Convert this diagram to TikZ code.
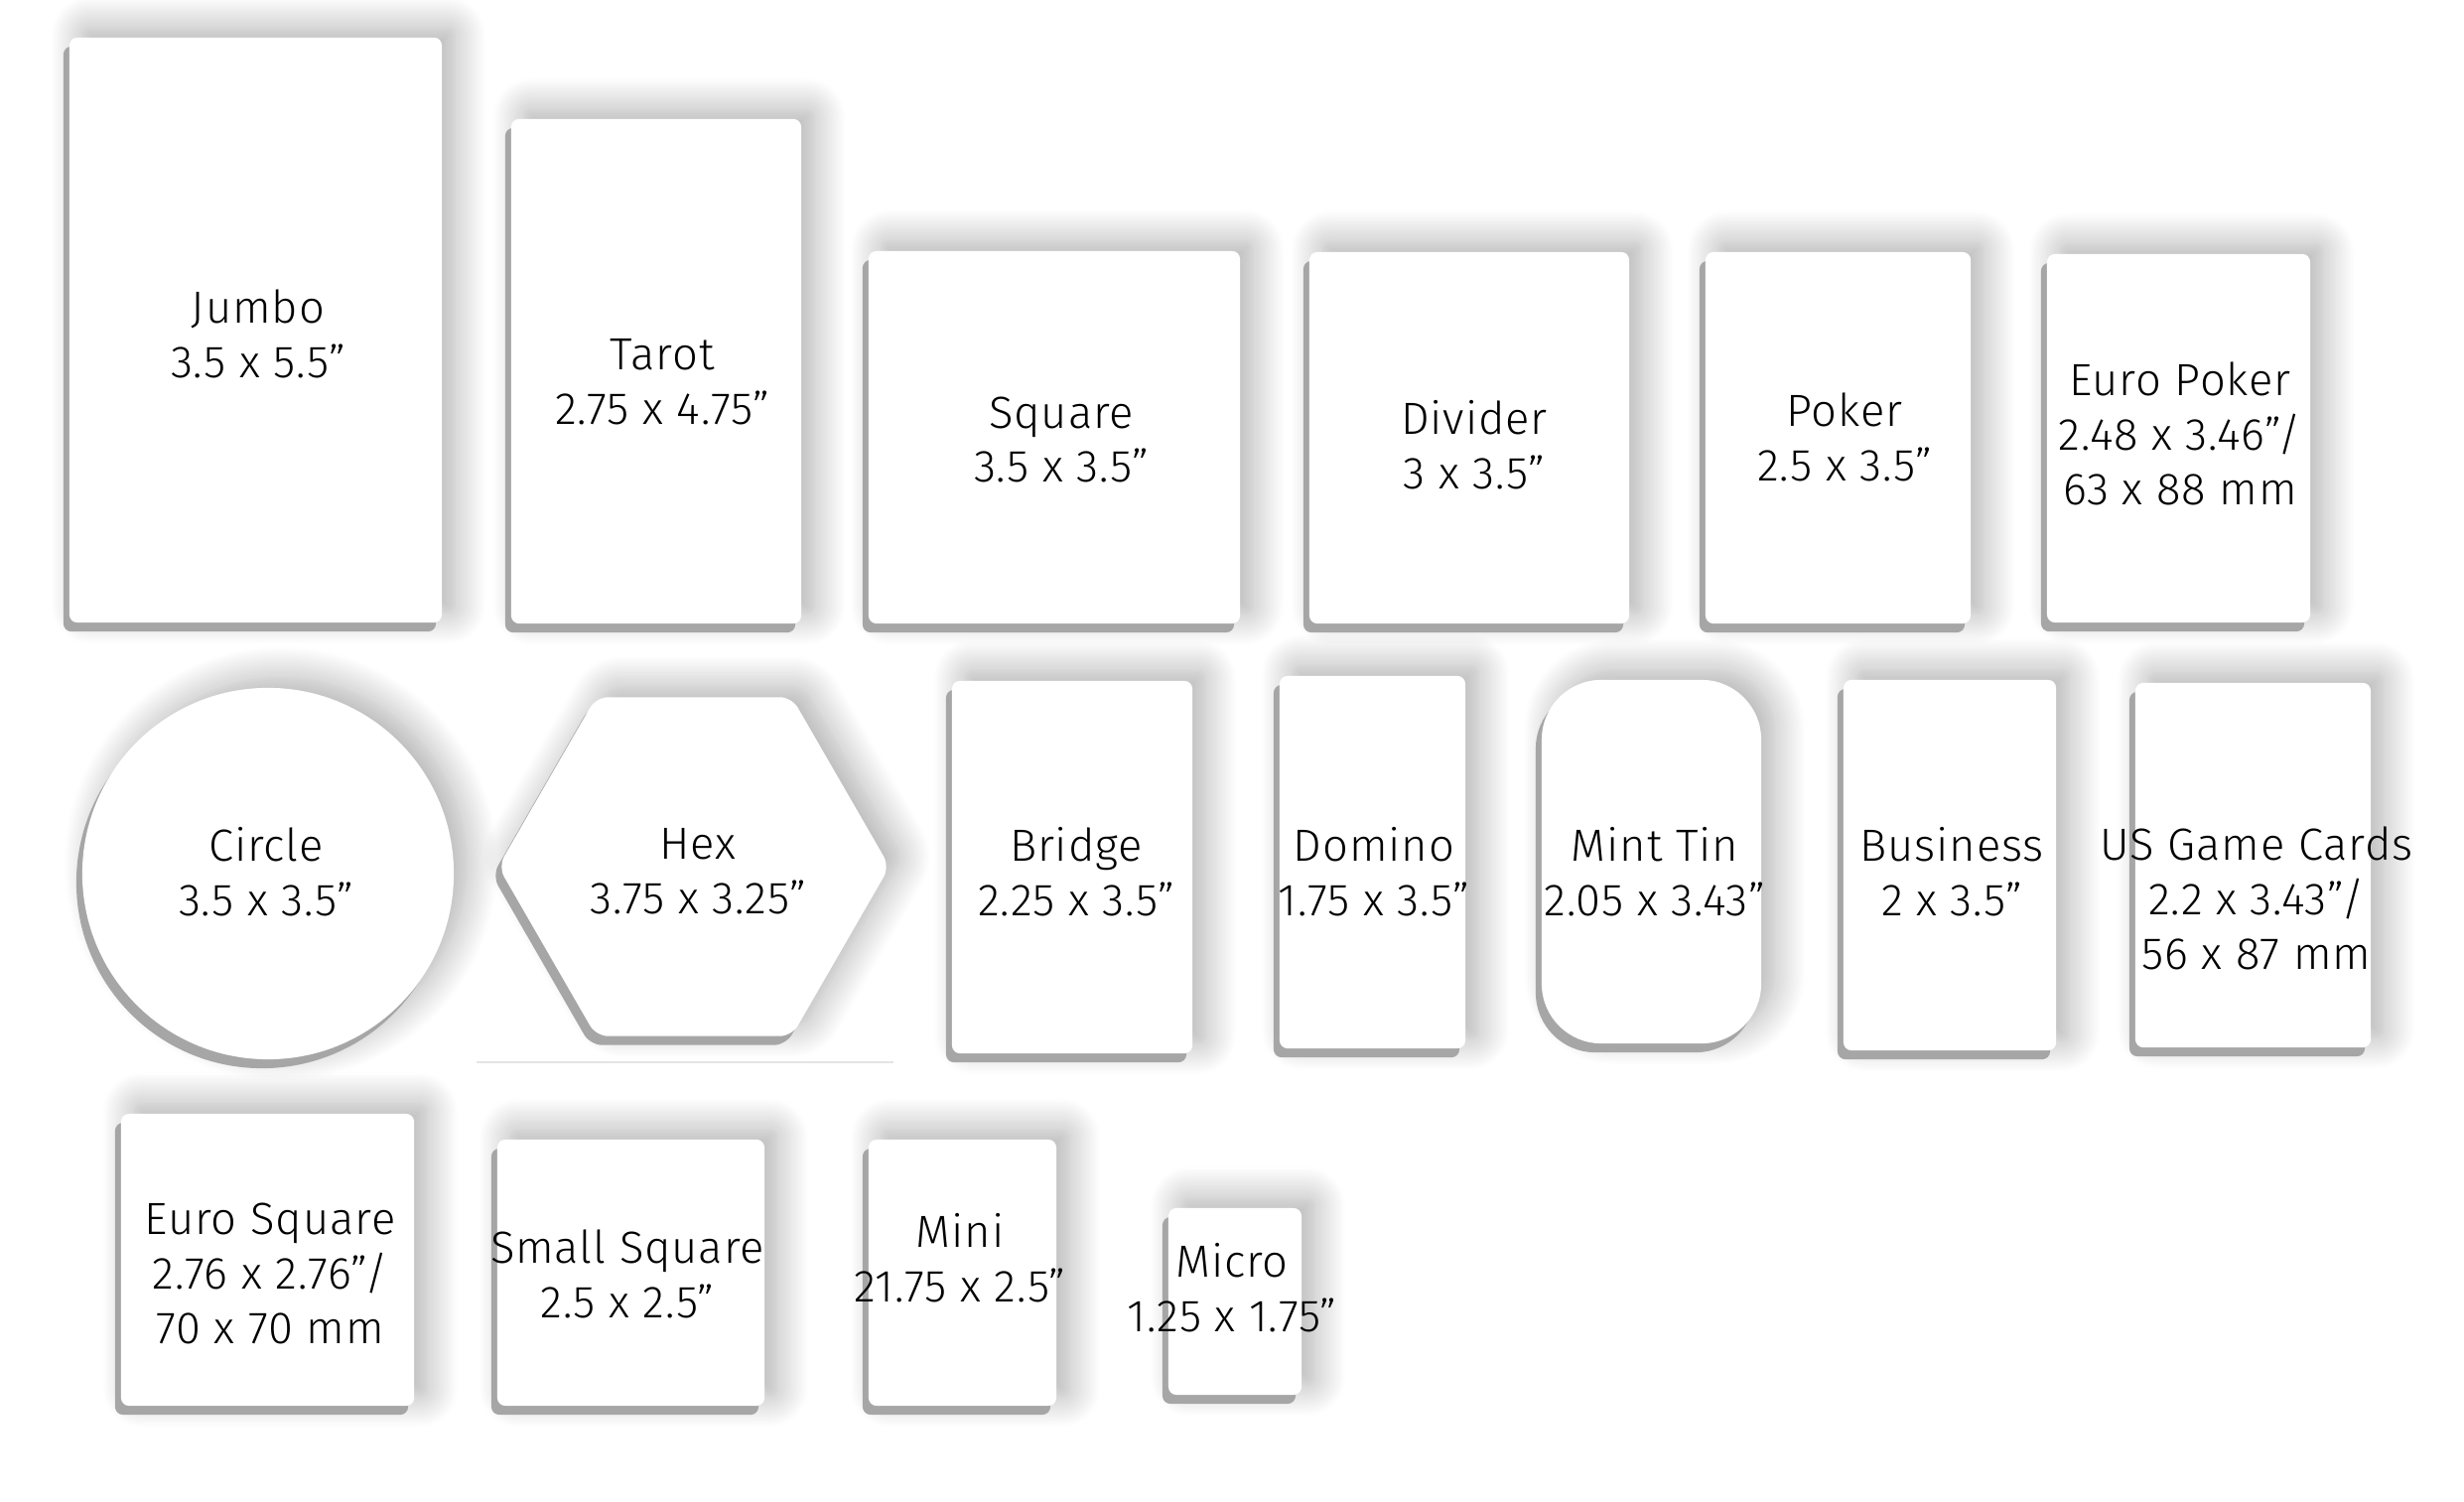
\documentclass[tikz,border=0pt]{standalone}
\usepackage{fontspec}
\setmainfont{Fira Sans Light}[LetterSpace=2]
\usepackage{tikz}
\usetikzlibrary{shadows,shadows.blur,shapes.geometric}

\definecolor{shadowgray}{HTML}{A6A6A6}
\definecolor{rulegray}{HTML}{E4E4E4}

\tikzset{
  cardbase/.style={fill=white, draw=none, inner sep=0pt, outer sep=0pt,
    blur shadow={shadow xshift=0.13cm, shadow yshift=0.1cm,
      shadow blur radius=0.32cm, shadow blur steps=14, shadow opacity=32},
    general shadow={fill=shadowgray, shadow xshift=-0.06cm, shadow yshift=-0.09cm}},
  card/.style={cardbase, rectangle, rounded corners=0.08cm},
  lbl/.style={align=center, font=\fontsize{12.9}{15.6}\selectfont, text=black}
}

\begin{document}
\begin{tikzpicture}[x=0.01cm, y=-0.01cm]
\useasboundingbox (0,0) rectangle (2482,1513);

% first row
\node[card, minimum width=3.75cm, minimum height=5.89cm] (jumbo) at (257.5,332.5) {};
\node[card, minimum width=2.92cm, minimum height=5.08cm] (tarot) at (661,374) {};
\node[card, minimum width=3.74cm, minimum height=3.75cm] (square) at (1062,440.5) {};
\node[card, minimum width=3.22cm, minimum height=3.74cm] (divider) at (1480,441) {};
\node[card, minimum width=2.67cm, minimum height=3.74cm] (poker) at (1851.5,441) {};
\node[card, minimum width=2.65cm, minimum height=3.71cm] (europoker) at (2194.5,441.5) {};

% second row
\draw[rulegray, line width=0.4pt] (480,1070) -- (900,1070);
\node[cardbase, circle, minimum size=3.74cm] (circ) at (270,880) {};
\node[cardbase, regular polygon, regular polygon sides=6, rounded corners=0.12cm,
  minimum size=3.94cm] (hex) at (699,873) {};
\node[card, minimum width=2.42cm, minimum height=3.75cm] (bridge) at (1080,873.5) {};
\node[card, minimum width=1.87cm, minimum height=3.75cm] (domino) at (1382.5,868.5) {};
\node[cardbase, rectangle, rounded corners=0.6cm, minimum width=2.21cm,
  minimum height=3.66cm] (minttin) at (1663.5,868) {};
\node[card, minimum width=2.14cm, minimum height=3.73cm] (business) at (1964,871.5) {};
\node[card, minimum width=2.37cm, minimum height=3.67cm] (usgame) at (2269.5,871.5) {};

% third row
\node[card, minimum width=2.95cm, minimum height=2.94cm] (eurosquare) at (269.5,1269) {};
\node[card, minimum width=2.69cm, minimum height=2.68cm] (smallsquare) at (635.5,1282) {};
\node[card, minimum width=1.89cm, minimum height=2.68cm] (mini) at (969.5,1282) {};
\node[card, minimum width=1.34cm, minimum height=1.88cm] (micro) at (1244,1311) {};

% labels
\node[lbl] (jumbo-t) at (260,336) {Jumbo\\3.5 x 5.5”};
\node[lbl] (tarot-t) at (667,385) {Tarot\\2.75 x 4.75”};
\node[lbl] (square-t) at (1069,443) {Square\\3.5 x 3.5”};
\node[lbl] (divider-t) at (1485,448) {Divider\\3 x 3.5”};
\node[lbl] (poker-t) at (1858,440) {Poker\\2.5 x 3.5”};
\node[lbl] (europoker-t) at (2196,437) {Euro Poker\\2.48 x 3.46”/\\63 x 88 mm};
\node[lbl] (circ-t) at (268,878) {Circle\\3.5 x 3.5”};
\node[lbl] (hex-t) at (703,878) {Hex\\3.75 x 3.25”};
\node[lbl] (bridge-t) at (1084,878) {Bridge\\2.25 x 3.5”};
\node[lbl] (domino-t) at (1384,878) {Domino\\1.75 x 3.5”};
\node[lbl] (minttin-t) at (1667,878) {Mint Tin\\2.05 x 3.43”};
\node[lbl] (business-t) at (1966,878) {Business\\2 x 3.5”};
\node[lbl] (usgame-t) at (2273,905) {US Game Cards\\2.2 x 3.43”/\\56 x 87 mm};
\node[lbl] (eurosquare-t) at (272,1283) {Euro Square\\2.76 x 2.76”/\\70 x 70 mm};
\node[lbl] (smallsquare-t) at (632,1283) {Small Square\\2.5 x 2.5”};
\node[lbl] (mini-t) at (967,1267) {Mini\\21.75 x 2.5”};
\node[lbl] (micro-t) at (1241,1297) {Micro\\1.25 x 1.75”};
\end{tikzpicture}
\end{document}
